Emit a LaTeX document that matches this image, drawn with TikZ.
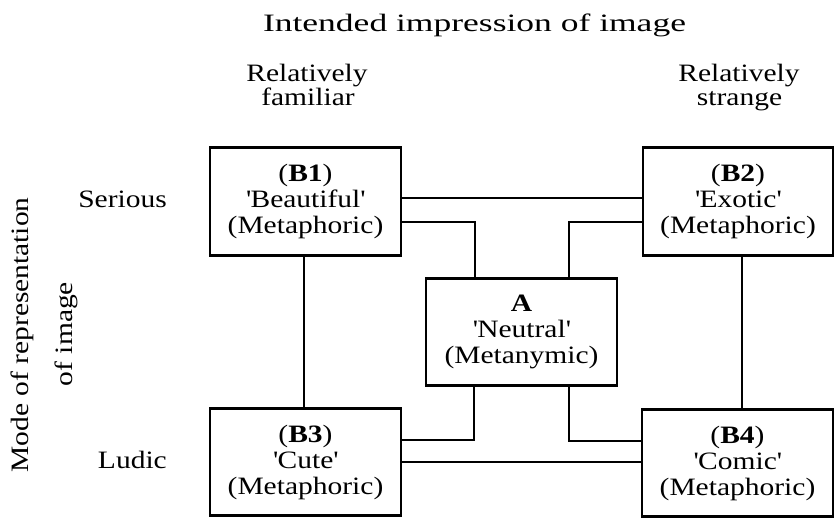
\documentclass[tikz,border=0pt]{standalone}
\usepackage{fontspec}
\setmainfont{Liberation Serif}[FakeStretch=1.18]
\newfontfamily\titlefont{Liberation Serif}[FakeStretch=1.42]
\begin{document}
\begin{tikzpicture}[x=1pt,y=-1pt,
  box/.style={draw, line width=2.8pt, minimum width=191pt, minimum height=107pt,
    align=center, inner sep=0pt, font=\fontsize{25}{26}\selectfont},
  link/.style={line width=2.7pt},
  lbl/.style={font=\fontsize{25}{26}\selectfont, inner sep=0pt, anchor=base}]
\fill[white] (0,0) rectangle (834,517);
\useasboundingbox (0,0) rectangle (834,517);

% headings
\node[lbl, font=\titlefont\fontsize{25}{26}\selectfont] (title) at (474.5,31) {Intended impression of image};
\node[lbl] (famA) at (307,81) {Relatively};
\node[lbl] (famB) at (308,105) {familiar};
\node[lbl] (strA) at (739,81) {Relatively};
\node[lbl] (strB) at (739.5,105) {strange};
\node[lbl, anchor=base east] (serious) at (167,207) {Serious};
\node[lbl, anchor=base east] (ludic) at (167,468) {Ludic};
\node[lbl, rotate=90] (modeA) at (28.5,335) {Mode of representation};
\node[lbl, rotate=90] (modeB) at (72,334) {of image};

% the five categories
\node[box, minimum height=108pt] (B1) at (305.5,201.5)
  {(\textbf{B1})\\\textquotesingle Beautiful\textquotesingle\\(Metaphoric)};
\node[box, minimum width=190pt, minimum height=108pt] (B2) at (738,201.5)
  {(\textbf{B2})\\\textquotesingle Exotic\textquotesingle\\(Metaphoric)};
\node[box] (A) at (521.5,332)
  {\textbf{A}\\\textquotesingle Neutral\textquotesingle\\(Metanymic)};
\node[box] (B3) at (305.5,462)
  {(\textbf{B3})\\\textquotesingle Cute\textquotesingle\\(Metaphoric)};
\node[box] (B4) at (737.5,463)
  {(\textbf{B4})\\\textquotesingle Comic\textquotesingle\\(Metaphoric)};

% links between the categories
\draw[link] (B1.east |- 0,198) -- (B2.west |- 0,198);
\draw[link] (B3.east |- 0,462) -- (B4.west |- 0,462);
\draw[link] (304,0 |- B1.south) -- (304,0 |- B3.north);
\draw[link] (742,0 |- B2.south) -- (742,0 |- B4.north);
\draw[link] (B1.east |- 0,222) -| (475,0 |- A.north);
\draw[link] (B2.west |- 0,222) -| (569,0 |- A.north);
\draw[link] (474,0 |- A.south) |- (B3.east |- 0,440);
\draw[link] (569,0 |- A.south) |- (B4.west |- 0,441);
\end{tikzpicture}
\end{document}
